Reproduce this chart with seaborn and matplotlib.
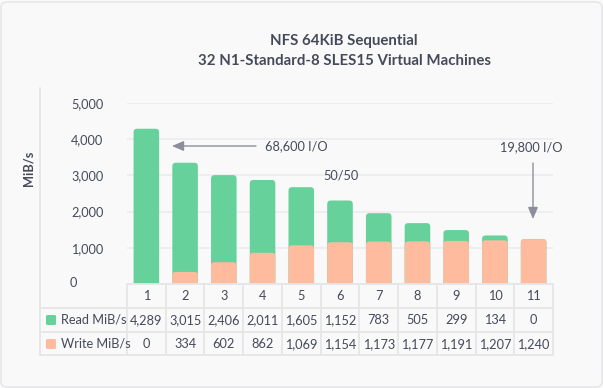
import matplotlib
matplotlib.use("Agg")
import matplotlib.pyplot as plt
from matplotlib.patches import FancyBboxPatch
from matplotlib.transforms import blended_transform_factory
import seaborn as sns

## Data ##
runs = ['1', '2', '3', '4', '5', '6', '7', '8', '9', '10', '11']
read_mibs = [4289, 3015, 2406, 2011, 1605, 1152, 783, 505, 299, 134, 0]
write_mibs = [0, 334, 602, 862, 1069, 1154, 1173, 1177, 1191, 1207, 1240]
y_ticks = [0, 1000, 2000, 3000, 4000, 5000]
row_names = ['Read MiB/s', 'Write MiB/s']

title = 'NFS 64KiB Sequential\n32 N1-Standard-8 SLES15 Virtual Machines'

GREEN = '#66d19a'
PEACH = '#ffbb9e'
TEXT = '#454a5a'
LINE = '#e6e6e8'
ARROW = '#8c8f9b'
BG = '#f9f9fa'
FS = 9.2

sns.set_style('white')
plt.rcParams['font.family'] = ['Lato', 'DejaVu Sans']

W, H = 603, 388
fig = plt.figure(figsize=(W / 100, H / 100), dpi=100)
fig.patch.set_facecolor(BG)


def fx(px):
    return px / W


def fy(py):
    return 1 - py / H


# card frame (outline only)
fig.patches.append(FancyBboxPatch((fx(1), fy(387)), fx(601), 385 / H,
                                  boxstyle='round,pad=0,rounding_size=0.012',
                                  transform=fig.transFigure, facecolor='none',
                                  edgecolor='#e4e4e6', lw=1, zorder=-5))

# bar axes
left, right, top, bottom = 127, 553, 103, 284
ax = fig.add_axes([fx(left), fy(bottom), fx(right - left), (bottom - top) / H])
ax.set_facecolor('none')

totals = [r + w for r, w in zip(read_mibs, write_mibs)]
sns.barplot(x=runs, y=totals, color=GREEN, saturation=1, width=0.66, ax=ax)
sns.barplot(x=runs, y=write_mibs, color=PEACH, saturation=1, width=0.66, ax=ax)

ax.set_xlim(-0.5, len(runs) - 0.5)
ax.set_ylim(0, 5000)

# rounded bar tops (bottoms pushed below the axis and clipped)
px_x = 1 / ((right - left) / len(runs))
px_y = 5000 / (bottom - top)
old = list(ax.patches)
for p in old:
    h = p.get_height()
    if h <= 0:
        p.remove()
        continue
    fb = FancyBboxPatch((p.get_x(), -300), p.get_width(), h + 300,
                        boxstyle='round,pad=0,rounding_size=%f' % (3.5 * px_x),
                        mutation_aspect=px_y / px_x,
                        facecolor=p.get_facecolor(), edgecolor='none',
                        lw=0, zorder=2)
    p.remove()
    ax.add_patch(fb)

ax.set_yticks(y_ticks)
ax.set_yticklabels(['' if v == 0 else f'{v:,}' for v in y_ticks])
ax.set_xticks([])
ax.tick_params(axis='y', length=0, pad=17, labelsize=FS, labelcolor=TEXT)
ax.grid(axis='y', color='#ececee', lw=1.2, zorder=0)
ax.set_axisbelow(True)
for s in ax.spines.values():
    s.set_visible(False)
ax.set_xlabel('')
ax.set_ylabel('')

fig.text(fx(73), fy(283), '0', ha='center', va='center', fontsize=FS, color=TEXT)
fig.text(fx(29), fy(168), 'MiB/s', ha='center', va='center', rotation=90,
         fontsize=FS, color=TEXT, fontweight='bold')

# title
fig.text(fx(344), fy(51), title, ha='center', va='center', fontsize=10.8,
         fontweight='bold', color=TEXT, linespacing=1.5)

# table lines
def hline(y, x0, x1):
    fig.add_artist(plt.Line2D([fx(x0), fx(x1)], [fy(y), fy(y)], color=LINE,
                              lw=1.3, transform=fig.transFigure))


def vline(x, y0, y1):
    fig.add_artist(plt.Line2D([fx(x), fx(x)], [fy(y0), fy(y1)], color=LINE,
                              lw=1.3, transform=fig.transFigure))


hline(284, left, right)
for y in (308, 332, 355):
    hline(y, 40, right)
vline(40, 88, 355)
col_w = (right - left) / len(runs)
for i in range(len(runs) + 1):
    vline(left + i * col_w, 284, 355)

tr = blended_transform_factory(ax.transData, fig.transFigure)
for i, run in enumerate(runs):
    fig.text(i, fy(296), run, transform=tr, ha='center', va='center',
             fontsize=FS, color=TEXT)
    fig.text(i, fy(320), f'{read_mibs[i]:,}', transform=tr, ha='center',
             va='center', fontsize=FS, color=TEXT)
    fig.text(i, fy(344), f'{write_mibs[i]:,}', transform=tr, ha='center',
             va='center', fontsize=FS, color=TEXT)

for name, color, y in zip(row_names, [GREEN, PEACH], [320, 344]):
    fig.patches.append(FancyBboxPatch((fx(46), fy(y + 5)), fx(10), 10 / H,
                                      boxstyle='round,pad=0,rounding_size=0.003',
                                      transform=fig.transFigure,
                                      facecolor=color, edgecolor='none'))
    fig.text(fx(61), fy(y), name, ha='left', va='center', fontsize=FS,
             color=TEXT)

# annotations
arrow = dict(arrowstyle='-|>,head_length=0.7,head_width=0.3', color=ARROW, lw=1,
             shrinkA=0, shrinkB=0)
ax.annotate('', xy=(fx(172), fy(146)), xytext=(fx(256), fy(146)),
            xycoords='figure fraction', arrowprops=arrow)
fig.text(fx(265), fy(146), '68,600 I/O', ha='left', va='center', fontsize=FS,
         color=TEXT)
ax.annotate('', xy=(fx(533), fy(219)), xytext=(fx(533), fy(163)),
            xycoords='figure fraction', arrowprops=arrow)
fig.text(fx(531), fy(147), '19,800 I/O', ha='center', va='center',
         fontsize=FS, color=TEXT)
fig.text(fx(341), fy(176), '50/50', ha='center', va='center', fontsize=FS,
         color=TEXT)

fig.savefig('out.png', dpi=100, facecolor=BG)
